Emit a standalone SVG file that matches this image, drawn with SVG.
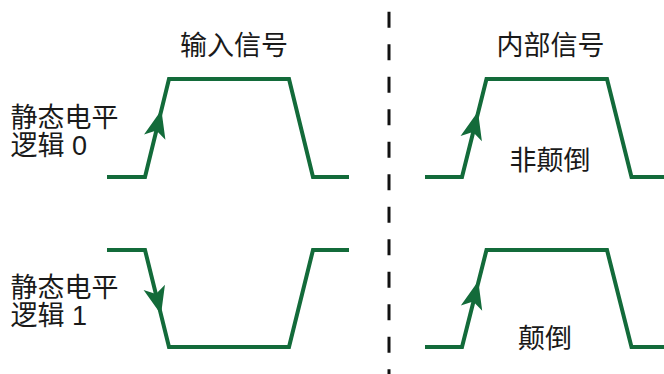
<svg xmlns="http://www.w3.org/2000/svg" width="664" height="374" viewBox="0 0 664 374">
<style>
.t{font-family:"Liberation Sans","Noto Sans CJK SC",sans-serif;font-size:27px;fill:#1a1a1a}
.c{text-anchor:middle}
.w{fill:none;stroke:#136b3a;stroke-width:4;stroke-linejoin:miter}
.a{fill:#136b3a}
.d{stroke:#111;stroke-width:3;stroke-dasharray:16 16.5}
</style>
<defs>
<path id="ah" d="M0,0 L-28,-11 L-21,0 L-28,11 Z"/>
</defs>
<rect width="664" height="374" fill="#fff"/>
<g id="divider"><line class="d" x1="389" y1="11.7" x2="389" y2="374"/></g>
<g id="title-input"><text class="t c" x="234" y="55">输入信号</text></g>
<g id="title-internal"><text class="t c" x="550.5" y="55">内部信号</text></g>
<g id="label-logic0"><text class="t" x="10.5" y="127">静态电平</text><text class="t" x="10.5" y="155">逻辑 0</text></g>
<g id="label-logic1"><text class="t" x="10.5" y="297">静态电平</text><text class="t" x="10.5" y="325">逻辑 1</text></g>
<g id="label-noninvert"><text class="t c" x="550" y="170">非颠倒</text></g>
<g id="label-invert"><text class="t c" x="545" y="347.5">颠倒</text></g>
<g id="connectors">
<polyline id="wave-in0" class="w" points="107,177 145,177 169,79 289,79 313,177 349,177"/>
<polyline id="wave-in1" class="w" points="107,250 145,250 169,347 289,347 313,250 349,250"/>
<polyline id="wave-out0" class="w" points="425,177 462,177 486.5,79 607,79 631.5,177 666,177"/>
<polyline id="wave-out1" class="w" points="425,347 462,347 486.5,250 607,250 631.5,347 666,347"/>
<use href="#ah" class="a" transform="translate(161.4,110) rotate(-76.2)"/>
<use href="#ah" class="a" transform="translate(161,314.5) rotate(76.1)"/>
<use href="#ah" class="a" transform="translate(478,111.5) rotate(-76)"/>
<use href="#ah" class="a" transform="translate(478.3,281) rotate(-76)"/>
</g>
</svg>
